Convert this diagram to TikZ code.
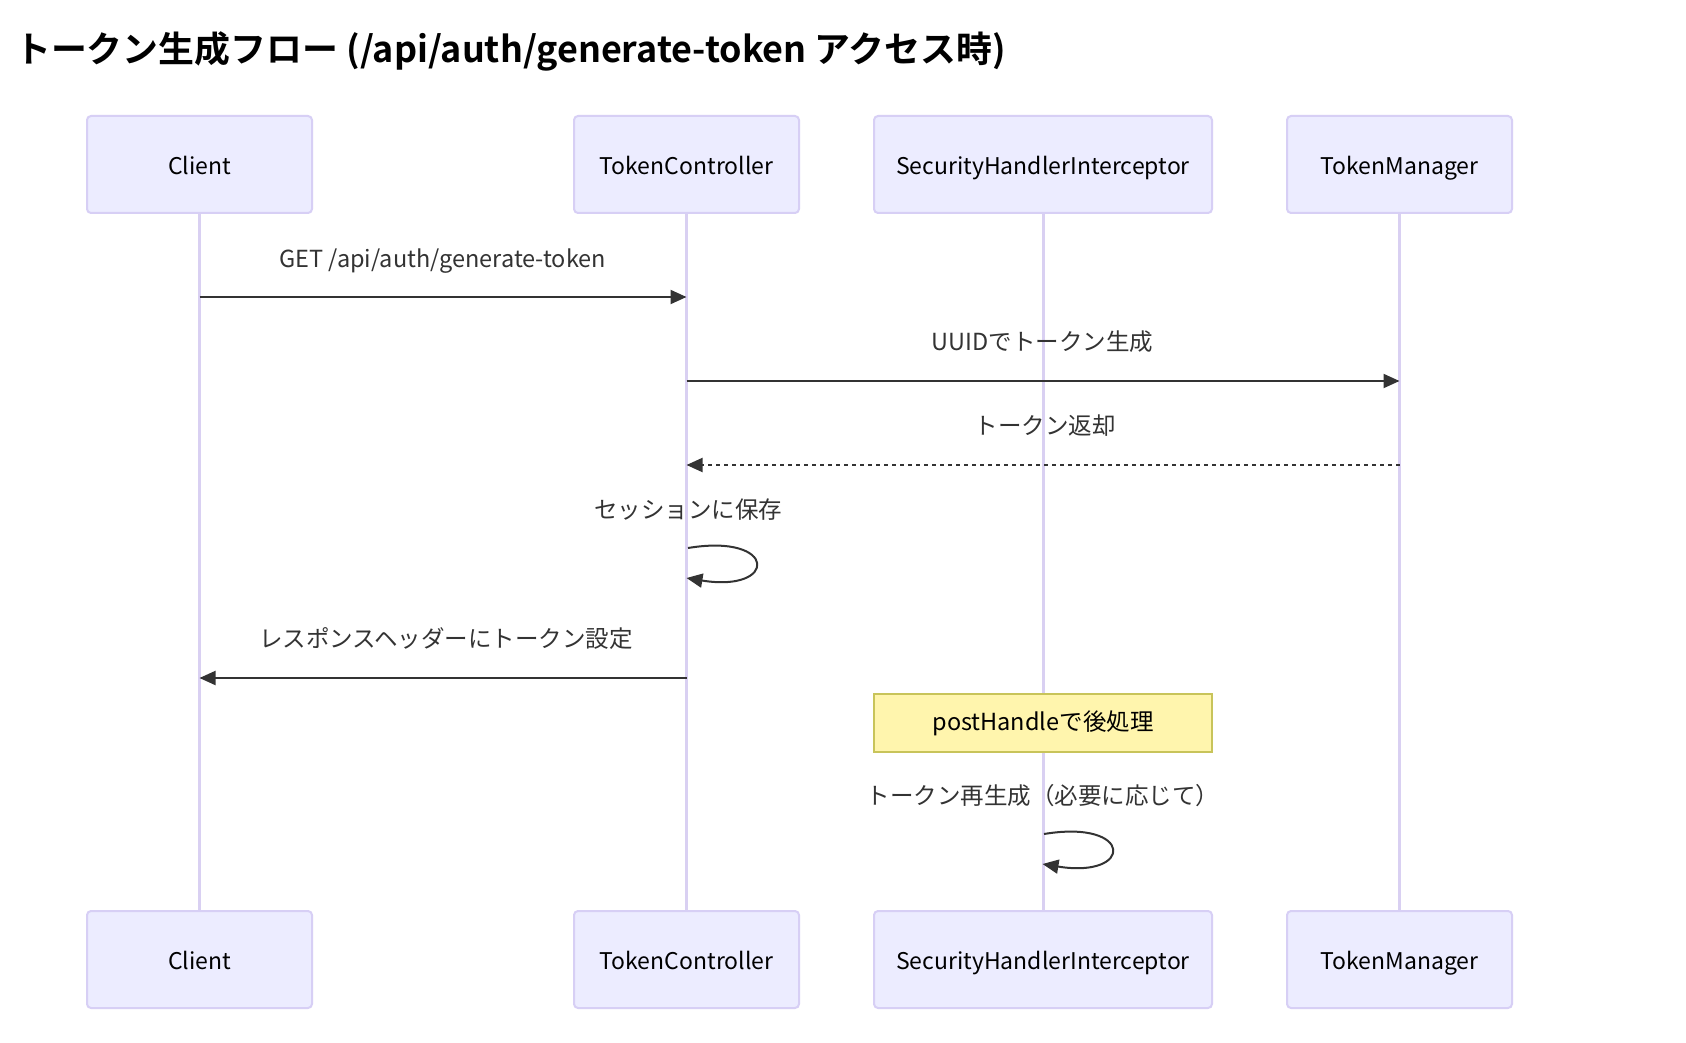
\documentclass[tikz,border=0pt]{standalone}
\usepackage{fontspec}
\setmainfont{Noto Sans CJK JP}[BoldFont={Noto Sans CJK JP Bold}]
\usetikzlibrary{arrows.meta,calc}
\definecolor{actfill}{HTML}{ECECFF}
\definecolor{actline}{HTML}{D7CFF5}
\definecolor{lifeln}{HTML}{D9D0F2}
\definecolor{msgc}{HTML}{333333}
\definecolor{notefill}{HTML}{FFF5AD}
\definecolor{noteline}{HTML}{C8C45A}
\tikzset{
  actor/.style={draw=actline, line width=2pt, fill=actfill, rounded corners=4pt,
    minimum height=97pt, inner sep=0pt, text height=20pt, text depth=0.5pt,
    font=\fontsize{23}{28}\selectfont, text=black},
  lifeline/.style={draw=lifeln, line width=3pt},
  msg/.style={draw=msgc, line width=2pt, -{Triangle[length=16pt,width=14pt]}},
  msgdash/.style={msg, dash pattern=on 4pt off 4pt},
  msglabel/.style={font=\fontsize{23.5}{28}\selectfont, text=msgc, inner sep=0pt},
  notebox/.style={draw=noteline, line width=2pt, fill=notefill, minimum width=338pt,
    minimum height=58pt, inner sep=0pt, font=\fontsize{23.5}{28}\selectfont, text=black}
}
\begin{document}
\begin{tikzpicture}[x=1pt,y=-1pt]
\useasboundingbox (0,0) rectangle (1686,1043);
\fill[white] (0,0) rectangle (1686,1043);
% title
\node[anchor=west, inner sep=0pt, font=\fontsize{35.9}{40}\selectfont\bfseries] (title) at (15,51)
  {トークン生成フロー (/api/auth/generate-token アクセス時)};
% actors top
\node[actor, minimum width=225pt] (clT) at (199.5,164.5) {Client};
\node[actor, minimum width=225pt] (tcT) at (686.5,164.5) {TokenController};
\node[actor, minimum width=338pt] (shT) at (1043,164.5) {SecurityHandlerInterceptor};
\node[actor, minimum width=225pt] (tmT) at (1399.5,164.5) {TokenManager};
% actors bottom
\node[actor, minimum width=225pt] (clB) at (199.5,959.5) {Client};
\node[actor, minimum width=225pt] (tcB) at (686.5,959.5) {TokenController};
\node[actor, minimum width=338pt] (shB) at (1043,959.5) {SecurityHandlerInterceptor};
\node[actor, minimum width=225pt] (tmB) at (1399.5,959.5) {TokenManager};
% lifelines
\draw[lifeline] (clT.south) -- (clB.north);
\draw[lifeline] (tcT.south) -- (tcB.north);
\draw[lifeline] (shT.south) -- (shB.north);
\draw[lifeline] (tmT.south) -- (tmB.north);
% message anchor points
\coordinate (m1a) at (199.5,297);  \coordinate (m1b) at (686.5,297);
\coordinate (m2a) at (686.5,381);  \coordinate (m2b) at (1399.5,381);
\coordinate (m3a) at (1399.5,465); \coordinate (m3b) at (686.5,465);
\coordinate (m4a) at (688,548);    \coordinate (m4b) at (686.5,578);
\coordinate (m5a) at (686.5,678);  \coordinate (m5b) at (199.5,678);
\coordinate (m6a) at (1044,834);   \coordinate (m6b) at (1042.5,864);
% labels
\node[msglabel] (l1) at (442.5,261) {GET /api/auth/generate-token};
\node[msglabel] (l2) at (1042.5,342) {UUIDでトークン生成};
\node[msglabel] (l3) at (1045,426) {トークン返却};
\node[msglabel] (l4) at (688,510) {セッションに保存};
\node[msglabel] (l5) at (446,639) {レスポンスヘッダーにトークン設定};
\node[msglabel] (l6) at (1043,796) {トークン再生成（必要に応じて）};
% arrows
\draw[msg] (m1a) -- (m1b);
\draw[msg] (m2a) -- (m2b);
\draw[msgdash] (m3a) -- (m3b);
\draw[msg] (m4a) .. controls ($(m4a)+(90,-15)$) and ($(m4a)+(90,45)$) .. (m4b);
\draw[msg] (m5a) -- (m5b);
% note
\node[notebox] (note) at (1043,723) {postHandleで後処理};
\draw[msg] (m6a) .. controls ($(m6a)+(90,-15)$) and ($(m6a)+(90,45)$) .. (m6b);
\end{tikzpicture}
\end{document}
